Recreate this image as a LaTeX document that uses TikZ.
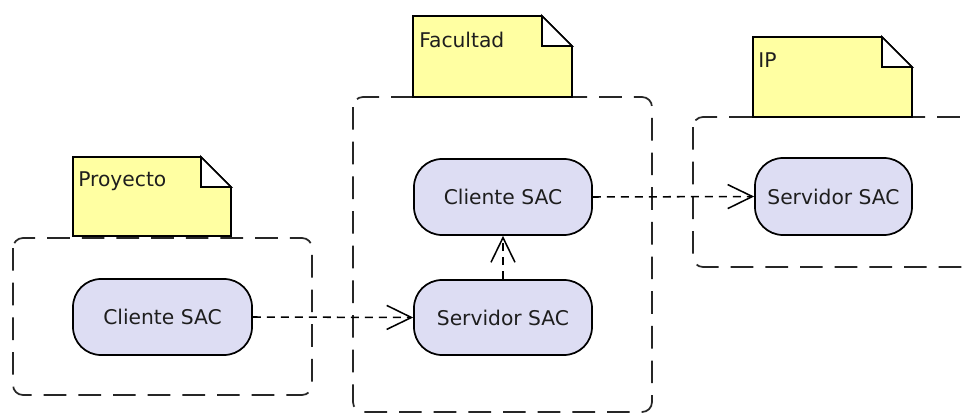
\documentclass[tikz,border=0pt]{standalone}
\usepackage{fontspec}
\setmainfont{DejaVu Sans}
\usetikzlibrary{arrows.meta}
\definecolor{notefill}{RGB}{255,255,162}
\definecolor{compfill}{RGB}{221,221,243}
\definecolor{inktext}{RGB}{30,30,30}
\tikzset{
  comp/.style={draw=black, line width=1.3pt, fill=compfill, rectangle,
    rounded corners=21pt, font=\fontsize{15.2}{18}\selectfont, text=inktext,
    inner sep=0pt},
  frame/.style={draw=black!85, line width=1.3pt, rounded corners=7.5pt,
    dash pattern=on 17pt off 9pt},
  notebody/.style={draw=black, line width=1.3pt, fill=notefill, line join=miter},
  notefold/.style={draw=black, line width=1.3pt, fill=white, line join=miter},
  notelabel/.style={anchor=base west, inner sep=0pt,
    font=\fontsize{15.2}{18}\selectfont, text=inktext},
  dep/.style={draw=black, line width=1.15pt, dash pattern=on 6pt off 4.5pt,
    -{Straight Barb[length=18.5pt, width=18pt, line width=1.15pt]}}
}
% folded note: #1 = left, #2 = top, #3 = right, #4 = bottom (pixel units)
\newcommand{\foldnote}[4]{%
  \path[notebody] (#1,#2) -- (#3-30,#2) -- (#3,#2+30) -- (#3,#4) -- (#1,#4) -- cycle;
  \path[notefold] (#3-30,#2) -- (#3-30,#2+30) -- (#3,#2+30) -- cycle;
}
\begin{document}
\begin{tikzpicture}[x=0.75pt, y=-0.75pt]
  \clip (0,0) rectangle (965,414);
  \fill[white] (0,0) rectangle (965,414);
  \useasboundingbox (0,0) rectangle (965,414);

  % package frames
  \draw[frame] (13,238) rectangle (312,395);
  \draw[frame] (353,97) rectangle (652,412);
  \draw[frame] (693,117) rectangle (1000,267);

  % notes on top of the frames
  \foldnote{73}{157}{231}{236}
  \node[notelabel] (lblProy) at (78,186) {Proyecto};
  \foldnote{413}{16}{572}{97}
  \node[notelabel] (lblFac) at (419,47) {Facultad};
  \foldnote{753}{37}{912}{117}
  \node[notelabel] (lblIP) at (758,67) {IP};

  % components
  \node[comp, minimum width=134.25pt, minimum height=57pt] (proyCli) at (162.5,317) {Cliente SAC};
  \node[comp, minimum width=133.5pt, minimum height=57pt] (facCli) at (503,197) {Cliente SAC};
  \node[comp, minimum width=133.5pt, minimum height=56.25pt] (facSrv) at (503,317.5) {Servidor SAC};
  \node[comp, minimum width=117.75pt, minimum height=57.75pt] (ipSrv) at (833.5,196.5) {Servidor SAC};

  % dependencies
  \draw[dep] (proyCli.east) -- (facSrv.west);
  \draw[dep] (facSrv.north) -- (facCli.south);
  \draw[dep] (facCli.east) -- (ipSrv.west);
\end{tikzpicture}
\end{document}
